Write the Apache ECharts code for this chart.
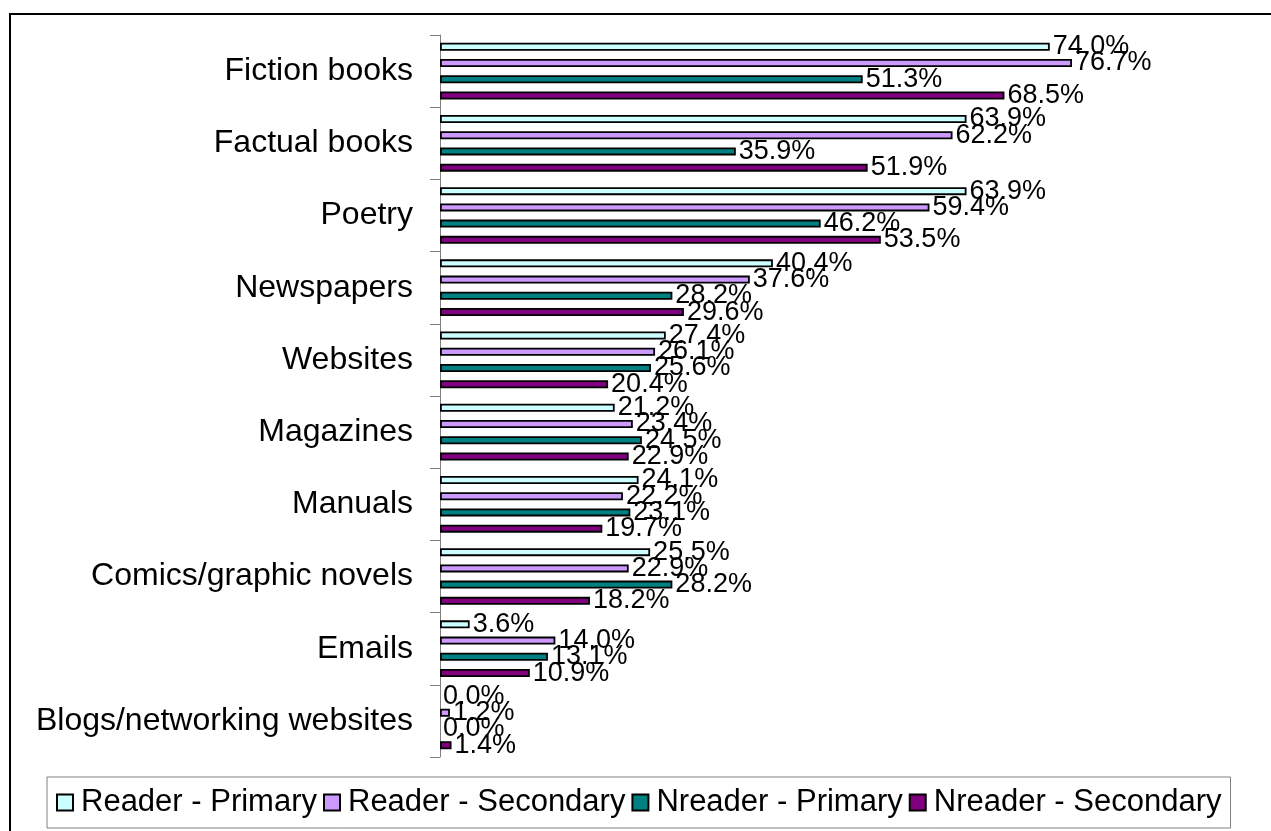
<!DOCTYPE html>
<html>
<head>
<meta charset="utf-8">
<title>Reading materials</title>
<script src="https://cdn.jsdelivr.net/npm/echarts@6.0.0/dist/echarts.min.js"></script>
<style>
    html, body { margin: 0; padding: 0; background: #fff; }
    #chart { width: 1271px; height: 831px; }
</style>
</head>
<body>
<div id="chart"></div>
<script>
// 数据
let categories = ['Fiction books', 'Factual books', 'Poetry', 'Newspapers', 'Websites',
    'Magazines', 'Manuals', 'Comics/graphic novels', 'Emails', 'Blogs/networking websites'];
let seriesNames = ['Reader - Primary', 'Reader - Secondary', 'Nreader - Primary', 'Nreader - Secondary'];
let readerPrimary = [74.0, 63.9, 63.9, 40.4, 27.4, 21.2, 24.1, 25.5, 3.6, 0.0];
let readerSecondary = [76.7, 62.2, 59.4, 37.6, 26.1, 23.4, 22.2, 22.9, 14.0, 1.2];
let nreaderPrimary = [51.3, 35.9, 46.2, 28.2, 25.6, 24.5, 23.1, 28.2, 13.1, 0.0];
let nreaderSecondary = [68.5, 51.9, 53.5, 29.6, 20.4, 22.9, 19.7, 18.2, 10.9, 1.4];
let seriesColors = ['#CCFFFF', '#CC99FF', '#008080', '#800080'];

let allValues = [readerPrimary, readerSecondary, nreaderPrimary, nreaderSecondary];
let fontName = 'Liberation Sans, Arial, sans-serif';

// 每个系列的配置
function makeSeries(i) {
    return {
        name: seriesNames[i],
        type: 'bar',
        // 0 值的柱子不画边框
        data: allValues[i].map(v => v === 0 ? { value: v, itemStyle: { borderWidth: 0 } } : v),
        barWidth: 8,
        barGap: '103%',
        itemStyle: {
            color: seriesColors[i],
            borderColor: '#000',
            borderWidth: 1.8
        },
        label: {
            show: true,
            position: 'right',
            distance: 3,
            color: '#000',
            fontFamily: fontName,
            fontSize: 27,
            formatter: function (p) { return p.value.toFixed(1) + '%'; }
        },
        animation: false
    };
}

let option = {
    backgroundColor: '#fff',
    animation: false,
    // 外框
    graphic: [{
        type: 'rect',
        shape: { x: 10, y: 14, width: 1300, height: 900 },
        style: { fill: 'none', stroke: '#000', lineWidth: 2 },
        z: -1
    }],
    legend: {
        data: seriesNames,
        left: 47,
        bottom: 3,
        orient: 'horizontal',
        icon: 'rect',
        itemWidth: 16,
        itemHeight: 16,
        itemGap: 6,
        padding: [10, 9],
        borderColor: '#808080',
        borderWidth: 1,
        textStyle: {
            color: '#000',
            fontFamily: fontName,
            fontSize: 31,
            padding: [0, 0, 0, 3]
        }
    },
    grid: {
        left: 440,
        right: 7,
        top: 35,
        bottom: 74,
        containLabel: false
    },
    xAxis: {
        type: 'value',
        min: 0,
        max: 100,
        show: false
    },
    yAxis: {
        type: 'category',
        data: categories,
        inverse: true,
        axisLine: { show: true, lineStyle: { color: '#808080', width: 1 } },
        axisTick: { show: true, length: 10, lineStyle: { color: '#808080' } },
        axisLabel: {
            margin: 27,
            color: '#000',
            fontFamily: fontName,
            fontSize: 32
        },
        splitLine: { show: false }
    },
    series: [makeSeries(0), makeSeries(1), makeSeries(2), makeSeries(3)]
};

let myChart = echarts.init(document.getElementById('chart'));
myChart.setOption(option);
</script>
</body>
</html>
